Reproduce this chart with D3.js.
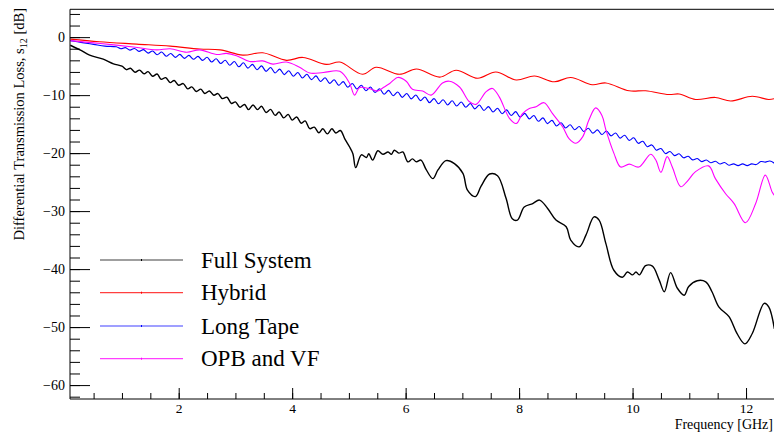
<!DOCTYPE html>
<html>
<head>
<meta charset="utf-8">
<script src="https://cdn.jsdelivr.net/npm/d3@7"></script>
<style>
body { margin: 0; background: #fff; }
text { font-family: "Liberation Serif", "Times New Roman", serif; }
</style>
</head>
<body>
<svg width="774" height="432"></svg>
<script>
// tick values
var freqTicks = [2, 4, 6, 8, 10, 12];
var freqMinor = d3.range(0.5, 12.51, 0.5);
var lossTicks = [-60, -50, -40, -30, -20, -10, 0];
var lossMinor = d3.range(-62, 4.1, 2);

var seriesNames = ["Full System", "Hybrid", "Long Tape", "OPB and VF"];
var seriesColors = ["#000000", "#ff0000", "#0000ff", "#ff00ff"];

// [frequency GHz, s12 dB]
var fullSystem = [
	[0.09,-1.4],[0.26,-2.2],[0.43,-3.1],[0.67,-3.8],[0.85,-4.6],
	[1.00,-5.0],[1.08,-5.61],[1.15,-5.37],[1.23,-6.05],[1.31,-5.69],[1.39,-6.32],[1.46,-5.95],[1.54,-6.75],[1.62,-6.36],[1.69,-7.27],
	[1.77,-6.98],[1.85,-7.84],[1.92,-7.47],[2.00,-8.30],[2.08,-8.01],[2.16,-8.92],[2.23,-8.58],[2.31,-9.37],[2.39,-8.97],[2.46,-9.73],
	[2.54,-9.28],[2.62,-10.03],[2.69,-9.73],[2.77,-10.60],[2.85,-10.36],[2.93,-11.44],[3.00,-11.16],[3.08,-12.09],[3.16,-11.62],[3.23,-12.5],
	[3.31,-11.7],[3.39,-12.5],[3.46,-11.92],[3.54,-12.99],[3.62,-12.46],[3.70,-13.49],[3.77,-12.92],[3.85,-13.93],[3.93,-13.32],[4.00,-14.31],
	[4.08,-13.78],[4.16,-14.85],[4.23,-14.44],[4.31,-15.78],[4.39,-15.52],[4.47,-16.50],[4.54,-15.81],[4.62,-16.68],[4.70,-15.80],[4.77,-16.53],
	[4.85,-16.1],[4.93,-17.6],[5.01,-18.9],[5.07,-20.1],[5.12,-22.5],[5.22,-20.3],[5.31,-20.75],[5.35,-20.1],[5.42,-21.2],[5.51,-19.6],
	[5.60,-20.2],[5.69,-19.8],[5.75,-20.2],[5.80,-19.5],[5.88,-20.0],[5.95,-19.8],[6.04,-21.5],[6.12,-21.0],[6.19,-21.5],[6.27,-21.2],
	[6.36,-22.8],[6.48,-24.4],[6.57,-22.9],[6.71,-21.3],[6.86,-21.8],[7.01,-23.5],[7.09,-26.4],[7.23,-27.5],[7.33,-25.7],[7.48,-23.6],
	[7.62,-23.9],[7.77,-27.8],[7.88,-31.3],[7.97,-31.55],[8.09,-29.3],[8.24,-28.7],[8.36,-28.1],[8.50,-29.5],[8.65,-31.55],[8.83,-32.7],
	[8.91,-35.0],[9.06,-36.15],[9.18,-34.1],[9.32,-31.0],[9.41,-31.55],[9.53,-35.6],[9.67,-40.2],[9.82,-41.4],[9.91,-40.5],[10.00,-41.0],
	[10.06,-40.5],[10.12,-41.0],[10.23,-39.4],[10.35,-39.5],[10.47,-41.9],[10.56,-43.9],[10.67,-40.6],[10.79,-43.3],[10.91,-44.5],[10.99,-43.0],
	[11.14,-42.0],[11.29,-42.2],[11.40,-43.9],[11.52,-46.5],[11.70,-48.2],[11.84,-51.1],[11.98,-52.9],[12.11,-51.1],[12.32,-45.9],[12.40,-46.5],
	[12.50,-50.3]
];

var hybrid = [
	[0.09,-0.35],[0.6,-0.8],[1.26,-1.2],[1.85,-1.55],[2.37,-2.05],[2.73,-2.2],[3.13,-3.1],[3.48,-2.7],[3.90,-4.0],[4.19,-3.5],
	[4.60,-4.7],[4.84,-4.3],[5.24,-6.4],[5.48,-5.2],[5.89,-6.4],[6.19,-5.5],[6.60,-6.9],[6.89,-5.7],[7.27,-7.1],[7.59,-6.0],
	[7.95,-7.4],[8.27,-6.7],[8.62,-7.7],[8.91,-6.95],[9.29,-8.2],[9.53,-7.9],[9.94,-9.25],[10.23,-9.25],[10.64,-9.9],[10.82,-9.8],
	[11.11,-10.75],[11.46,-10.4],[11.73,-11.0],[12.11,-10.2],[12.40,-10.75],[12.50,-10.6]
];

var longTape = [
	[0.09,-0.6],[0.3,-0.95],[0.5,-1.25],[0.7,-1.55],
	[0.90,-1.67],[0.98,-1.99],[1.06,-1.81],[1.14,-2.24],[1.22,-1.95],[1.30,-2.46],[1.38,-2.16],[1.46,-2.75],[1.54,-2.38],[1.62,-3.03],
	[1.70,-2.57],[1.78,-3.29],[1.86,-2.81],[1.94,-3.49],[2.02,-2.98],[2.10,-3.66],[2.18,-3.14],[2.26,-3.82],[2.34,-3.31],[2.42,-4.01],
	[2.50,-3.46],[2.58,-4.29],[2.66,-3.72],[2.74,-4.55],[2.82,-3.98],[2.90,-4.84],[2.98,-4.21],[3.06,-5.11],[3.14,-4.43],[3.22,-5.35],
	[3.30,-4.69],[3.38,-5.62],[3.46,-4.96],[3.54,-5.90],[3.62,-5.24],[3.70,-6.18],[3.78,-5.51],[3.86,-6.46],[3.94,-5.80],[4.02,-6.75],
	[4.10,-6.10],[4.18,-7.04],[4.26,-6.39],[4.34,-7.33],[4.42,-6.68],[4.50,-7.64],[4.58,-7.01],[4.66,-7.98],[4.74,-7.34],[4.82,-8.31],
	[4.90,-7.67],[4.98,-8.64],[5.06,-7.99],[5.14,-8.95],[5.22,-8.30],[5.30,-9.25],[5.38,-8.60],[5.46,-9.55],[5.54,-8.91],[5.62,-9.85],
	[5.70,-9.18],[5.78,-10.12],[5.86,-9.45],[5.94,-10.38],[6.02,-9.72],[6.10,-10.65],[6.18,-9.98],[6.26,-10.95],[6.34,-10.33],[6.42,-11.30],
	[6.50,-10.60],[6.58,-11.49],[6.66,-10.79],[6.74,-11.69],[6.82,-10.98],[6.90,-11.88],[6.98,-11.18],[7.06,-12.10],[7.14,-11.44],[7.22,-12.37],
	[7.30,-11.71],[7.38,-12.64],[7.46,-11.98],[7.54,-12.92],[7.62,-12.26],[7.70,-13.21],[7.78,-12.55],[7.86,-13.50],[7.94,-12.85],[8.02,-13.80],
	[8.10,-13.15],[8.18,-14.10],[8.26,-13.51],[8.34,-14.51],[8.42,-13.92],[8.50,-14.91],[8.58,-14.35],[8.66,-15.32],[8.74,-14.77],[8.82,-15.66],
	[8.90,-15.11],[8.98,-15.96],[9.06,-15.41],[9.14,-16.26],[9.22,-15.71],[9.30,-16.56],[9.38,-15.99],[9.46,-16.79],[9.54,-16.19],[9.62,-17.02],
	[9.70,-16.52],[9.78,-17.41],[9.86,-16.91],[9.94,-17.80],[10.02,-17.35],[10.10,-18.31],[10.18,-17.95],[10.26,-18.89],[10.34,-18.59],[10.42,-19.49],
	[10.50,-19.20],[10.58,-20.08],[10.66,-19.71],[10.74,-20.43],[10.82,-20.12],[10.90,-20.81],[10.98,-20.53],[11.06,-21.16],[11.14,-20.93],[11.22,-21.47],
	[11.30,-21.18],[11.38,-21.66],[11.46,-21.41],[11.54,-21.88],[11.62,-21.63],[11.70,-22.10],[11.78,-21.85],[11.86,-22.15],[11.94,-21.85],[12.02,-22.15],
	[12.10,-21.85],[12.18,-21.97],[12.26,-21.46],[12.34,-21.55],[12.42,-21.37],[12.50,-21.75]
];

var opbVf = [
	[0.09,-0.6],[0.62,-1.1],[1.20,-1.7],[1.61,-2.2],[1.85,-2.0],[2.14,-2.6],[2.37,-2.2],[2.67,-3.0],[2.84,-2.8],[3.02,-3.2],
	[3.25,-4.2],[3.48,-4.1],[3.66,-4.65],[3.90,-4.3],[4.13,-5.2],[4.31,-6.2],[4.55,-6.1],[4.84,-5.9],[5.01,-7.9],[5.10,-10.0],
	[5.19,-8.7],[5.37,-8.9],[5.51,-9.3],[5.59,-8.8],[5.72,-8.0],[5.86,-6.95],[6.01,-7.6],[6.12,-9.0],[6.30,-9.3],[6.45,-10.0],
	[6.65,-7.9],[6.77,-7.6],[6.95,-8.6],[7.12,-11.1],[7.24,-11.6],[7.42,-9.4],[7.53,-8.85],[7.65,-10.3],[7.83,-14.0],[7.95,-14.9],
	[8.06,-13.2],[8.18,-12.3],[8.30,-12.0],[8.44,-11.3],[8.59,-13.2],[8.77,-15.5],[8.88,-17.5],[9.00,-18.3],[9.12,-17.2],[9.23,-14.3],
	[9.35,-12.2],[9.46,-13.5],[9.53,-16.0],[9.67,-20.0],[9.79,-22.4],[9.94,-21.9],[10.11,-22.4],[10.32,-20.2],[10.41,-21.2],[10.50,-23.3],
	[10.61,-20.6],[10.70,-22.4],[10.85,-25.8],[10.96,-24.9],[11.11,-23.2],[11.34,-22.2],[11.46,-24.4],[11.64,-27.0],[11.79,-28.7],[11.99,-32.0],
	[12.17,-28.7],[12.34,-23.8],[12.46,-26.7],[12.50,-27.3]
];

var svg = d3.select("svg");
var plotLeft = 70, plotRight = 774.4, plotTop = 9.3, plotBottom = 399;

var x = d3.scaleLinear().domain([0.084, 12.5]).range([plotLeft, plotRight]);
var y = d3.scaleLinear().domain([-62.4, 4.8]).range([plotBottom, plotTop]);

svg.append("rect").attr("width", 774).attr("height", 432).attr("fill", "#fff");

svg.append("clipPath").attr("id", "plot")
	.append("rect")
	.attr("x", plotLeft).attr("y", plotTop)
	.attr("width", plotRight - plotLeft).attr("height", plotBottom - plotTop);

// curves
var line = d3.line()
	.x(function (d) { return x(d[0]); })
	.y(function (d) { return y(d[1]); })
	.curve(d3.curveCatmullRom.alpha(0.5));

var allSeries = [fullSystem, hybrid, longTape, opbVf];
svg.append("g")
	.attr("clip-path", "url(#plot)")
	.selectAll("path")
	.data(allSeries)
	.enter()
	.append("path")
	.attr("d", line)
	.attr("fill", "none")
	.attr("stroke", function (d, i) { return seriesColors[i]; })
	.attr("stroke-width", function (d, i) { return i == 0 ? 1.4 : 1.1; })
	.attr("stroke-linejoin", "round");

// y axis, ticks pointing into the frame
svg.append("g")
	.attr("transform", "translate(" + plotLeft + ",0)")
	.call(d3.axisLeft(y).tickValues(lossMinor).tickSize(-10).tickFormat(""));
svg.append("g")
	.attr("transform", "translate(" + plotLeft + ",0)")
	.call(d3.axisLeft(y).tickValues(lossTicks).tickSize(-20).tickPadding(5));

// x axis
svg.append("g")
	.attr("transform", "translate(0," + plotBottom + ")")
	.call(d3.axisBottom(x).tickValues(freqMinor).tickSize(-6).tickFormat(""));
var xMajor = svg.append("g")
	.attr("transform", "translate(0," + plotBottom + ")")
	.call(d3.axisBottom(x).tickValues(freqTicks).tickSize(-11).tickPadding(4));

svg.selectAll(".domain").remove();
svg.selectAll(".tick line").attr("stroke", "#000").attr("stroke-width", 1);
svg.selectAll(".tick text")
	.attr("fill", "#000")
	.style("font-family", "'Liberation Serif', serif")
	.style("font-size", "14px");
xMajor.selectAll(".tick text").style("font-size", "13.5px");

// frame
svg.append("path")
	.attr("d", "M" + (plotRight + 1) + "," + plotTop + "H" + plotLeft + "V" + plotBottom + "H" + (plotRight + 1))
	.attr("fill", "none")
	.attr("stroke", "#000")
	.attr("stroke-width", 1);

// axis titles
svg.append("text")
	.attr("x", 773)
	.attr("y", 428.5)
	.attr("text-anchor", "end")
	.style("font-size", "14px")
	.text("Frequency [GHz]");

var yTitle = svg.append("text")
	.attr("transform", "translate(24,8) rotate(-90)")
	.attr("text-anchor", "end")
	.style("font-size", "14.5px");
yTitle.append("tspan").text("Differential Transmission Loss, s");
yTitle.append("tspan").attr("dy", 3).style("font-size", "10px").text("12");
yTitle.append("tspan").attr("dy", -3).text(" [dB]");

// legend
var legendRows = [260, 292.7, 326, 358.7];
var legend = svg.append("g")
	.selectAll("g")
	.data(seriesNames)
	.enter()
	.append("g")
	.attr("transform", function (d, i) { return "translate(0," + legendRows[i] + ")"; });

legend.append("line")
	.attr("x1", 100).attr("x2", 183)
	.attr("stroke", function (d, i) { return seriesColors[i]; })
	.attr("stroke-width", 1.2)
	.attr("opacity", 0.75);
legend.append("line")
	.attr("x1", 141.5).attr("x2", 141.5).attr("y1", -1).attr("y2", 1)
	.attr("stroke", function (d, i) { return seriesColors[i]; });
legend.append("text")
	.attr("x", 201)
	.attr("y", 7.5)
	.style("font-size", "23px")
	.text(function (d) { return d; });
</script>
</body>
</html>
